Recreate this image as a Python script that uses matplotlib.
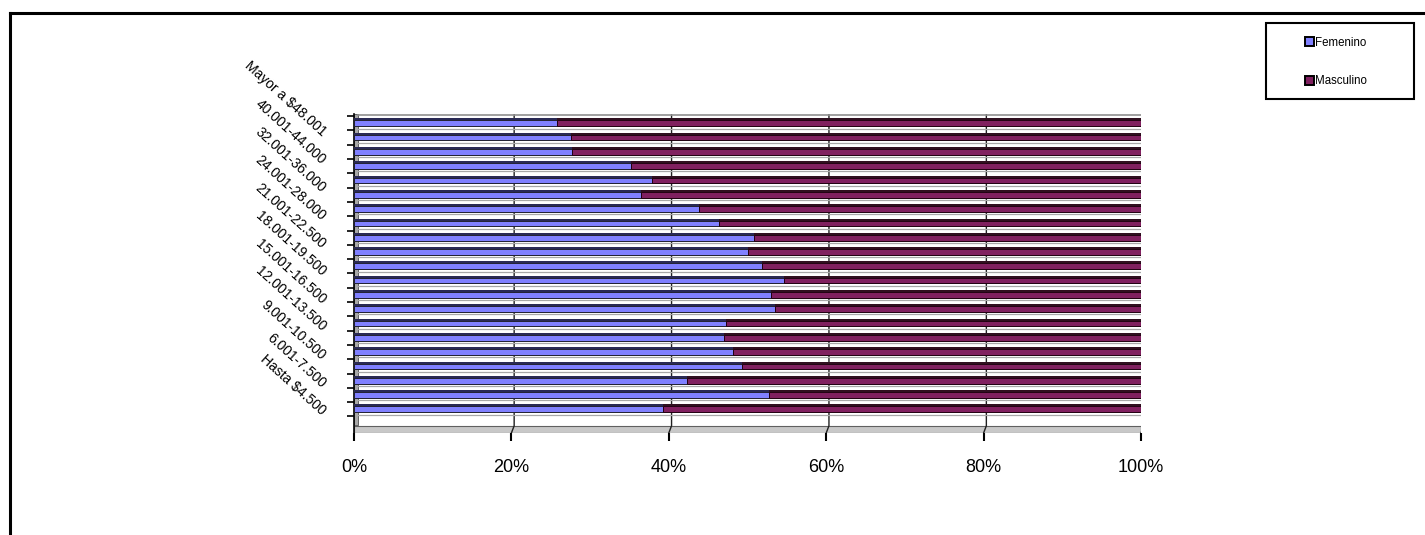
import matplotlib
matplotlib.use("Agg")
import matplotlib.pyplot as plt
import matplotlib.transforms as mtransforms
from matplotlib.lines import Line2D
from matplotlib.patches import Rectangle, Patch
import numpy as np

plt.rcParams['font.family'] = ['Liberation Sans', 'DejaVu Sans']

# categorias de ingreso, de abajo hacia arriba
categorias = ['Hasta $4.500', '4.501-6.000', '6.001-7.500', '7.501-9.000',
              '9.001-10.500', '10.501-12.000', '12.001-13.500', '13.501-15.000',
              '15.001-16.500', '16.501-18.000', '18.001-19.500', '19.501-21.000',
              '21.001-22.500', '22.501-24.000', '24.001-28.000', '28.001-32.000',
              '32.001-36.000', '36.001-40.000', '40.001-44.000', '44.001-48.000',
              'Mayor a $48.001']
femenino = [39.3, 52.7, 42.3, 49.3, 48.1, 47.0, 47.3, 53.5, 53.0, 54.6, 51.9,
            50.0, 50.8, 46.4, 43.8, 36.5, 37.9, 35.2, 27.7, 27.6, 25.8]
masculino = [100 - f for f in femenino]
series = ['Femenino', 'Masculino']
xticks = [0, 20, 40, 60, 80, 100]
xtick_labels = ['0%', '20%', '40%', '60%', '80%', '100%']

col_fem = '#8080FF'
col_mas = '#80205F'
top_fem = '#2A2A55'
top_mas = '#301020'

W, H = 1425, 535
fig = plt.figure(figsize=(W / 100, H / 100), dpi=100)

def px_box(left, top, right, bottom):
    return [left / W, 1 - bottom / H, (right - left) / W, (bottom - top) / H]

ax = fig.add_axes(px_box(354, 114, 1141, 433))
ylo, yhi = -1.657, 20.65
ax.set_xlim(0, 100)
ax.set_ylim(ylo, yhi)
ax.set_facecolor('white')

y = np.arange(len(categorias))
bh = 0.40

# pared izquierda y piso (efecto 3D)
ax.add_patch(Rectangle((0, -1.1), 0.45, yhi + 1.1, facecolor='#A8A8A8',
                       edgecolor='#505050', lw=0.6, zorder=1))
ax.axhspan(ylo, -1.15, facecolor='#C8C8C8', edgecolor='#606060', lw=0.8, zorder=1)

# lineas de division (pared del fondo)
for xv in xticks[1:]:
    ax.plot([xv + 0.35, xv + 0.35, xv], [yhi, -1.15, ylo], color='#202020', lw=1.0, zorder=1.5)
ax.plot([0.45, 100.45], [yhi - 0.05, yhi - 0.05], color='#909090', lw=1.2, zorder=1.5)

# sombra gris bajo cada barra
for yi in y:
    ax.plot([0.45, 100.45], [yi - bh / 2 - 0.17, yi - bh / 2 - 0.17], color='#A8A8A8', lw=0.9, zorder=1.6)

ax.barh(y, femenino, height=bh, color=col_fem, edgecolor='#202030', lw=0.7, zorder=3)
ax.barh(y, masculino, left=femenino, height=bh, color=col_mas, edgecolor='#200010', lw=0.7, zorder=3)
# cara superior oscura
ax.barh(y + bh / 2 + 0.07, femenino, height=0.14, color=top_fem, lw=0, zorder=3)
ax.barh(y + bh / 2 + 0.07, masculino, left=femenino, height=0.14, color=top_mas, lw=0, zorder=3)
# cara lateral derecha
ax.barh(y + 0.03, [0.3] * len(y), left=[100] * len(y), height=bh + 0.1, color='#101010', lw=0, zorder=3)

for s in ['top', 'right']:
    ax.spines[s].set_visible(False)
ax.spines['left'].set_color('black')
ax.spines['left'].set_linewidth(1.2)
ax.spines['bottom'].set_visible(False)

ax.set_xticks(xticks)
ax.set_xticklabels(xtick_labels, fontsize=13)
ax.tick_params(axis='x', length=6, width=1.5, pad=13, direction='out')
ax.set_yticks(np.arange(-0.5, len(categorias), 1.0))
ax.set_yticklabels([])
ax.tick_params(axis='y', length=5, width=1.2, direction='out')

# etiquetas de categoria rotadas (una de cada dos)
trans = mtransforms.blended_transform_factory(ax.transAxes, ax.transData)
for i in range(0, len(categorias), 2):
    ax.text(-0.038, i * 0.9755 - 0.26, categorias[i], transform=trans, rotation=-42,
            rotation_mode='anchor', ha='right', va='center', fontsize=10)

# marco exterior del grafico
fig.add_artist(Line2D([10 / W, 10 / W], [0, 1 - 13 / H], color='black', lw=2.2))
fig.add_artist(Line2D([10 / W, 1], [1 - 13 / H, 1 - 13 / H], color='black', lw=2.2))

# leyenda
fig.add_artist(Rectangle((1266 / W, 1 - 99 / H), 148 / W, 76 / H, facecolor='white',
                         edgecolor='black', lw=1.5, transform=fig.transFigure))
handles = [Patch(facecolor=col_fem, edgecolor='black', lw=1.4),
           Patch(facecolor=col_mas, edgecolor='black', lw=1.4)]
fig.legend(handles, series, loc='center', bbox_to_anchor=(1336 / W, 1 - 62 / H),
           frameon=False, fontsize=8.3, handlelength=0.8, handleheight=0.8,
           handletextpad=0.1, labelspacing=2.3)

fig.savefig('out.png', dpi=100)
